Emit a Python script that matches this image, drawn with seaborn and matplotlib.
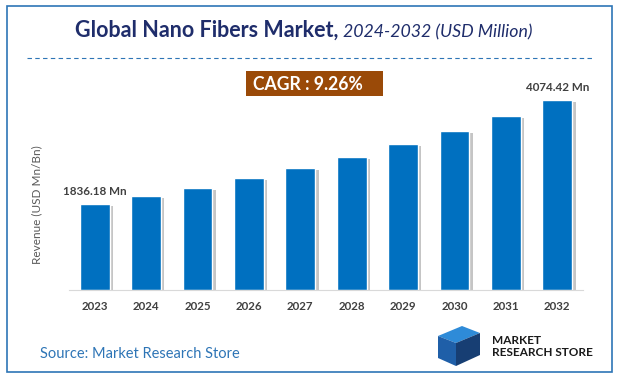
import numpy as np
import pandas as pd
import seaborn as sns
import matplotlib.pyplot as plt
import matplotlib.patheffects as path_effects
from matplotlib.patches import Rectangle, Polygon
from matplotlib.lines import Line2D

# values (USD Million)
years = ["2023", "2024", "2025", "2026", "2027", "2028", "2029", "2030", "2031", "2032"]
revenue = [1836.18, 2006.0, 2192.0, 2395.0, 2617.0, 2859.0, 3124.0, 3413.0, 3729.0, 4074.42]
end_labels = ["1836.18 Mn", "4074.42 Mn"]
cagr_text = "CAGR : 9.26%"

sns.set_style("white")
plt.rcParams['font.family'] = ['Lato', 'DejaVu Sans']

df = pd.DataFrame({'Year': years, 'Revenue': revenue})

fig = plt.figure(figsize=(6.2, 3.8), dpi=100)
ax = fig.add_axes([69 / 620, 90 / 380, 514 / 620, 210 / 380])

sns.barplot(data=df, x='Year', y='Revenue', color='#0070C0', saturation=1,
            width=0.58, ax=ax)
for bar in ax.patches:
    bar.set_path_effects([
        path_effects.SimplePatchShadow(offset=(2.5, -1.5), shadow_rgbFace='#7f7f7f', alpha=0.45),
        path_effects.Normal(),
    ])

ax.set_xlim(-0.5, 9.5)
ax.set_ylim(0, 4500)
ax.set_yticks([])
ax.set_xlabel('')
ax.set_ylabel('Revenue (USD Mn/Bn)', fontsize=8.5, color='#595959')
ax.yaxis.set_label_coords(-0.052, 0.405)
for s in ['top', 'right', 'left']:
    ax.spines[s].set_visible(False)
ax.spines['bottom'].set_color('#D9D9D9')
ax.tick_params(axis='x', length=0, pad=8, labelsize=8.3, labelcolor='#404040')
for lbl in ax.get_xticklabels():
    lbl.set_fontweight('bold')

# first and last value labels
ax.text(0, revenue[0] + 150, end_labels[0], ha='center', va='bottom',
        fontsize=8.4, fontweight='bold', color='#404040')
ax.text(9, revenue[-1] + 150, end_labels[1], ha='center', va='bottom',
        fontsize=8.4, fontweight='bold', color='#404040')

# title: bold part followed directly by italic part
t1 = fig.text(75 / 620, 1 - 37 / 380, 'Global Nano Fibers Market,', fontsize=15.5,
              fontweight='bold', color='#1F2D6B', ha='left', va='baseline')
fig.canvas.draw()
bb = t1.get_window_extent()
fig.text(bb.x1 / 620 + 5 / 620, 1 - 37 / 380, '2024-2032 (USD Million)', fontsize=12.8,
         style='italic', color='#1F2D6B', ha='left', va='baseline')
fig.add_artist(Line2D([27 / 620, 594 / 620], [1 - 58 / 380, 1 - 58 / 380],
                      color='#2E75B6', lw=0.8, ls=(0, (4, 3))))

# CAGR box
fig.add_artist(Rectangle((246 / 620, 1 - 96 / 380), 137 / 620, 25 / 380,
                         facecolor='#9A4A08', edgecolor='none'))
fig.text(253 / 620, 1 - 84 / 380, cagr_text, fontsize=12.7, fontweight='bold',
         color='white', ha='left', va='center')

# source and logo
fig.text(40 / 620, 1 - 354 / 380, 'Source: Market Research Store', fontsize=10.5,
         color='#2E75B6', ha='left', va='center')
fig.add_artist(Polygon([(438 / 620, 1 - 336 / 380), (462 / 620, 1 - 326 / 380),
                        (480 / 620, 1 - 333 / 380), (456 / 620, 1 - 343 / 380)],
                       facecolor='#2E8BD8', edgecolor='none'))
fig.add_artist(Polygon([(438 / 620, 1 - 336 / 380), (456 / 620, 1 - 343 / 380),
                        (456 / 620, 1 - 366 / 380), (438 / 620, 1 - 358 / 380)],
                       facecolor='#1F5FA8', edgecolor='none'))
fig.add_artist(Polygon([(456 / 620, 1 - 343 / 380), (480 / 620, 1 - 333 / 380),
                        (480 / 620, 1 - 355 / 380), (456 / 620, 1 - 366 / 380)],
                       facecolor='#173E73', edgecolor='none'))
fig.text(492 / 620, 1 - 340 / 380, 'MARKET', fontsize=8.5, fontweight='bold',
         color='#1a1a1a', ha='left', va='center')
fig.text(492 / 620, 1 - 352 / 380, 'RESEARCH STORE', fontsize=8.5, fontweight='bold',
         color='#1a1a1a', ha='left', va='center')

# outer border
fig.add_artist(Rectangle((7 / 620, 1 - 372 / 380), 605 / 620, 366 / 380,
                         facecolor='none', edgecolor='#2E75B6', lw=1.2))

fig.savefig('out.png', dpi=100)
